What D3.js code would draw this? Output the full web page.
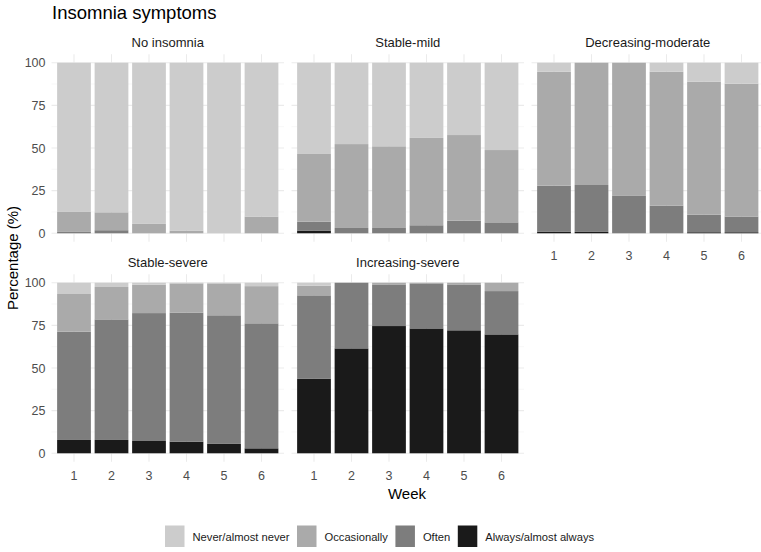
<!DOCTYPE html>
<html>
<head>
<meta charset="utf-8">
<script src="https://cdn.jsdelivr.net/npm/d3@7"></script>
<style>
  body { margin: 0; background: #fff; }
  svg { display: block; font-family: "Liberation Sans", Arial, sans-serif; }
</style>
</head>
<body>
<svg id="chart" width="761" height="552"></svg>
<script>
// ---- Data ----
const weeks = [1, 2, 3, 4, 5, 6];
const groups = ["No insomnia", "Stable-mild", "Decreasing-moderate", "Stable-severe", "Increasing-severe"];
const categories = ["Never/almost never", "Occasionally", "Often", "Always/almost always"];
const colors = ["#CCCCCC", "#AAAAAA", "#7D7D7D", "#1A1A1A"];
const yTicks = [0, 25, 50, 75, 100];

// values per group (percent), per category, per week
const noInsomnia_always = [0, 0, 0, 0, 0, 0];
const noInsomnia_often  = [0.8, 1.8, 0, 0, 0, 0];
const noInsomnia_occ    = [11.7, 10.5, 5.5, 1.6, 0, 9.8];
const noInsomnia_never  = [87.5, 87.7, 94.5, 98.4, 100, 90.2];

const stableMild_always = [1.6, 0, 0, 0, 0, 0];
const stableMild_often  = [5.2, 3.1, 3.1, 4.7, 7.4, 6.4];
const stableMild_occ    = [39.7, 49.2, 47.9, 51.2, 50.2, 42.4];
const stableMild_never  = [53.5, 47.7, 49.0, 44.1, 42.4, 51.2];

const decMod_always = [1.0, 0.8, 0, 0, 0.6, 0.6];
const decMod_often  = [26.9, 27.5, 21.9, 16.2, 10.3, 9.2];
const decMod_occ    = [66.8, 71.7, 78.1, 78.5, 78.0, 77.9];
const decMod_never  = [5.3, 0, 0, 5.3, 11.1, 12.3];

const stableSev_always = [7.8, 7.8, 7.2, 6.8, 5.5, 2.9];
const stableSev_often  = [63.5, 70.7, 75.0, 75.6, 75.4, 73.3];
const stableSev_occ    = [22.1, 19.0, 16.6, 17.2, 18.7, 21.8];
const stableSev_never  = [6.6, 2.5, 1.2, 0.4, 0.4, 2.0];

const incSev_always = [43.8, 61.5, 74.6, 73.2, 72.1, 69.7];
const incSev_often  = [48.8, 38.5, 24.4, 26.4, 26.9, 25.4];
const incSev_occ    = [5.6, 0, 1.0, 0.4, 1.0, 4.9];
const incSev_never  = [1.8, 0, 0, 0, 0, 0];

const groupData = {
  "No insomnia": [noInsomnia_never, noInsomnia_occ, noInsomnia_often, noInsomnia_always],
  "Stable-mild": [stableMild_never, stableMild_occ, stableMild_often, stableMild_always],
  "Decreasing-moderate": [decMod_never, decMod_occ, decMod_often, decMod_always],
  "Stable-severe": [stableSev_never, stableSev_occ, stableSev_often, stableSev_always],
  "Increasing-severe": [incSev_never, incSev_occ, incSev_often, incSev_always]
};

// ---- Layout ----
const svg = d3.select("#chart");
const panelW = 232.5, panelGap = 7.5;
const left0 = 51.5;
const rowTops = [54.2, 274.2];     // top of panel (y = 105)
const panelH = 187.6;              // covers -5..105
const textDark = "#1A1A1A", textGrey = "#4D4D4D", grid = "#EBEBEB";

svg.append("text").attr("x", 52).attr("y", 18.5)
  .attr("font-size", 18.5).attr("fill", "#000").text("Insomnia symptoms");

groups.forEach((g, i) => {
  const row = Math.floor(i / 3), col = i % 3;
  const px = left0 + col * (panelW + panelGap);
  const py = rowTops[row];
  const x = d3.scaleBand().domain(weeks).range([px, px + panelW])
    .paddingInner(0.1).paddingOuter(0.15);
  const y = d3.scaleLinear().domain([-5, 105]).range([py + panelH, py]);
  const gp = svg.append("g");

  // minor grid
  [12.5, 37.5, 62.5, 87.5].forEach(v => {
    gp.append("line").attr("x1", px).attr("x2", px + panelW)
      .attr("y1", y(v)).attr("y2", y(v)).attr("stroke", "#F3F3F3").attr("stroke-width", 0.55);
  });
  // major grid
  yTicks.forEach(v => {
    gp.append("line").attr("x1", px).attr("x2", px + panelW)
      .attr("y1", y(v)).attr("y2", y(v)).attr("stroke", grid).attr("stroke-width", 1.07);
  });
  weeks.forEach(w => {
    const cx = x(w) + x.bandwidth() / 2;
    gp.append("line").attr("x1", cx).attr("x2", cx)
      .attr("y1", py).attr("y2", py + panelH).attr("stroke", grid).attr("stroke-width", 1.07);
  });

  // stacked bars: bottom = Always, then Often, Occasionally, Never
  const arrs = groupData[g];
  const rows = weeks.map((w, k) => {
    const o = { week: w };
    categories.forEach((c, ci) => o[c] = arrs[ci][k]);
    return o;
  });
  const stackKeys = categories.slice().reverse();
  const series = d3.stack().keys(stackKeys)(rows);
  series.forEach(s => {
    const ci = categories.indexOf(s.key);
    gp.selectAll(null).data(s).enter().append("rect")
      .attr("x", d => x(d.data.week))
      .attr("width", x.bandwidth())
      .attr("y", d => y(d[1]))
      .attr("height", d => Math.max(0, y(d[0]) - y(d[1])))
      .attr("fill", colors[ci]);
  });

  // strip label
  svg.append("text").attr("x", px + panelW / 2).attr("y", py - 7)
    .attr("text-anchor", "middle").attr("font-size", 13).attr("fill", textDark).text(g);

  // y axis labels on left column
  if (col === 0) {
    const ya = d3.axisLeft(y).tickValues(yTicks).tickSize(0).tickPadding(6);
    const ag = svg.append("g").attr("transform", `translate(${px},0)`).call(ya);
    ag.select(".domain").remove();
    ag.selectAll("text").attr("font-size", 12.5).attr("fill", textGrey)
      .attr("font-family", "Liberation Sans, Arial, sans-serif");
  }
  // x axis labels on bottom of each column
  if (row === 1 || col === 2) {
    const xa = d3.axisBottom(x).tickSize(0).tickPadding(8);
    const ag = svg.append("g").attr("transform", `translate(0,${py + panelH + 1.5})`).call(xa);
    ag.select(".domain").remove();
    ag.selectAll("text").attr("font-size", 12.5).attr("fill", textGrey)
      .attr("font-family", "Liberation Sans, Arial, sans-serif");
  }
});

// axis titles
svg.append("text").attr("transform", "translate(18,258) rotate(-90)")
  .attr("text-anchor", "middle").attr("font-size", 15).attr("fill", "#000").text("Percentage (%)");
svg.append("text").attr("x", 407).attr("y", 498.5)
  .attr("text-anchor", "middle").attr("font-size", 15).attr("fill", "#000").text("Week");

// legend
const lg = svg.append("g");
let lx = 165;
categories.forEach((c, i) => {
  lg.append("rect").attr("x", lx).attr("y", 525.5).attr("width", 19.5).attr("height", 21.5)
    .attr("fill", colors[i]);
  const t = lg.append("text").attr("x", lx + 27.5).attr("y", 540.5)
    .attr("font-size", 11.2).attr("fill", textDark).text(c);
  const tw = t.node().getComputedTextLength();
  lx = lx + 27.5 + tw + 7.5;
});
</script>
</body>
</html>
